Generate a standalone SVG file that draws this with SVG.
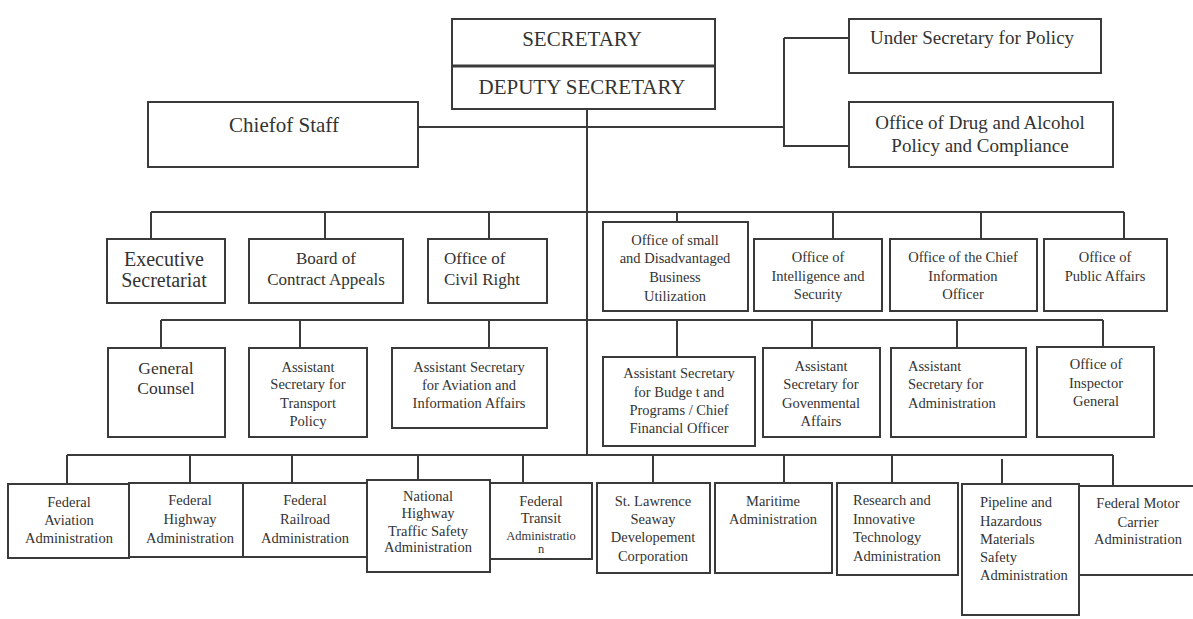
<svg xmlns="http://www.w3.org/2000/svg" width="1193" height="619" viewBox="0 0 1193 619">
<style>
.b{fill:#fff;stroke:#3a3a3a;stroke-width:2}
.c{fill:none;stroke:#3a3a3a;stroke-width:2}
text{font-family:"Liberation Serif","Times New Roman",serif;fill:#333;text-anchor:middle}
.xxl{font-size:21px}
.xl{font-size:20px}
.gc{font-size:17.5px}
.l{font-size:19px}
.m{font-size:17px}
.s{font-size:14.5px}
.xs{font-size:12.5px}
.st{text-anchor:start}
</style>
<rect width="1193" height="619" fill="#fff"/>
<g id="connectors">
<path class="c" d="M587 109V455"/>
<path class="c" d="M418 127H784M784 38H849M784 38V146H849"/>
<path class="c" d="M151 212H1124M151 212V239M325 212V239M489 212V239M677 212V222M833 212V239M981 212V239M1124 212V239"/>
<path class="c" d="M161 320H1103M161 320V348M300 320V348M489 320V348M677 320V357M812 320V348M957 320V348M1103 320V347"/>
<path class="c" d="M67 455H1113M67 455V484M190 455V483M292 455V483M418 455V480M523 455V483M653 455V483M784 455V483M892 455V483M1002 459V484M1113 455V486"/>
</g>
<g id="secretary"><rect class="b" x="452" y="19" width="263" height="90"/><path d="M452 66H715" stroke="#3a3a3a" stroke-width="3"/>
<text class="xxl" x="582" y="46">SECRETARY</text><text class="xxl" x="582" y="94">DEPUTY SECRETARY</text></g>
<g id="chief-of-staff"><rect class="b" x="148" y="102" width="270" height="65"/><text class="xxl" x="284" y="132">Chiefof Staff</text></g>
<g id="under-secretary"><rect class="b" x="849" y="19" width="252" height="54"/><text class="l" x="972" y="44">Under Secretary for Policy</text></g>
<g id="drug-alcohol"><rect class="b" x="849" y="102" width="264" height="65"/><text class="l" x="980" y="129">Office of Drug and Alcohol</text><text class="l" x="980" y="152">Policy and Compliance</text></g>

<g id="executive-secretariat"><rect class="b" x="107" y="239" width="118" height="64"/><text class="xl" x="164" y="266">Executive</text><text class="xl" x="164" y="287">Secretariat</text></g>
<g id="board-contract-appeals"><rect class="b" x="249" y="239" width="154" height="64"/><text class="m" x="326" y="264">Board of</text><text class="m" x="326" y="285">Contract Appeals</text></g>
<g id="civil-right"><rect class="b" x="428" y="239" width="119" height="64"/><text class="m st" x="444" y="264">Office of</text><text class="m st" x="444" y="285">Civil Right</text></g>
<g id="small-business"><rect class="b" x="603" y="222" width="145" height="89"/><text class="s" x="675" y="245">Office of small</text><text class="s" x="675" y="263">and Disadvantaged</text><text class="s" x="675" y="282">Business</text><text class="s" x="675" y="301">Utilization</text></g>
<g id="intelligence-security"><rect class="b" x="754" y="239" width="128" height="72"/><text class="s" x="818" y="262">Office of</text><text class="s" x="818" y="281">Intelligence and</text><text class="s" x="818" y="299">Security</text></g>
<g id="chief-information-officer"><rect class="b" x="890" y="239" width="147" height="72"/><text class="s" x="963" y="262">Office of the Chief</text><text class="s" x="963" y="281">Information</text><text class="s" x="963" y="299">Officer</text></g>
<g id="public-affairs"><rect class="b" x="1044" y="239" width="123" height="72"/><text class="s" x="1105" y="262">Office of</text><text class="s" x="1105" y="281">Public Affairs</text></g>

<g id="general-counsel"><rect class="b" x="108" y="348" width="117" height="89"/><text class="gc" x="166" y="374">General</text><text class="gc" x="166" y="394">Counsel</text></g>
<g id="transport-policy"><rect class="b" x="249" y="348" width="118" height="89"/><text class="s" x="308" y="372">Assistant</text><text class="s" x="308" y="389">Secretary for</text><text class="s" x="308" y="408">Transport</text><text class="s" x="308" y="426">Policy</text></g>
<g id="aviation-information"><rect class="b" x="392" y="348" width="155" height="80"/><text class="s" x="469" y="372">Assistant Secretary</text><text class="s" x="469" y="390">for Aviation and</text><text class="s" x="469" y="408">Information Affairs</text></g>
<g id="budget-programs"><rect class="b" x="603" y="357" width="152" height="89"/><text class="s" x="679" y="378">Assistant Secretary</text><text class="s" x="679" y="397">for Budge t and</text><text class="s" x="679" y="415">Programs / Chief</text><text class="s" x="679" y="433">Financial Officer</text></g>
<g id="governmental-affairs"><rect class="b" x="763" y="348" width="117" height="89"/><text class="s" x="821" y="371">Assistant</text><text class="s" x="821" y="389">Secretary for</text><text class="s" x="821" y="408">Govenmental</text><text class="s" x="821" y="426">Affairs</text></g>
<g id="administration"><rect class="b" x="891" y="348" width="135" height="89"/><text class="s st" x="908" y="371">Assistant</text><text class="s st" x="908" y="389">Secretary for</text><text class="s st" x="908" y="408">Administration</text></g>
<g id="inspector-general"><rect class="b" x="1037" y="347" width="117" height="90"/><text class="s" x="1096" y="369">Office of</text><text class="s" x="1096" y="388">Inspector</text><text class="s" x="1096" y="406">General</text></g>

<g id="faa"><rect class="b" x="8" y="484" width="121" height="74"/><text class="s" x="69" y="507">Federal</text><text class="s" x="69" y="525">Aviation</text><text class="s" x="69" y="543">Administration</text></g>
<g id="fhwa"><rect class="b" x="129" y="483" width="114" height="74"/><text class="s" x="190" y="505">Federal</text><text class="s" x="190" y="524">Highway</text><text class="s" x="190" y="543">Administration</text></g>
<g id="fra"><rect class="b" x="243" y="483" width="125" height="74"/><text class="s" x="305" y="505">Federal</text><text class="s" x="305" y="524">Railroad</text><text class="s" x="305" y="543">Administration</text></g>
<g id="nhtsa"><rect class="b" x="367" y="480" width="123" height="92"/><text class="s" x="428" y="501">National</text><text class="s" x="428" y="518">Highway</text><text class="s" x="428" y="536">Traffic Safety</text><text class="s" x="428" y="552">Administration</text></g>
<g id="fta"><rect class="b" x="490" y="483" width="102" height="76"/><text class="s" x="541" y="506">Federal</text><text class="s" x="541" y="523">Transit</text><text class="xs" x="541" y="540">Administratio</text><text class="xs" x="541" y="553">n</text></g>
<g id="st-lawrence"><rect class="b" x="597" y="483" width="113" height="90"/><text class="s" x="653" y="506">St. Lawrence</text><text class="s" x="653" y="524">Seaway</text><text class="s" x="653" y="542">Developement</text><text class="s" x="653" y="561">Corporation</text></g>
<g id="maritime"><rect class="b" x="715" y="483" width="117" height="90"/><text class="s" x="773" y="506">Maritime</text><text class="s" x="773" y="524">Administration</text></g>
<g id="rita"><rect class="b" x="837" y="483" width="121" height="92"/><text class="s st" x="853" y="505">Research and</text><text class="s st" x="853" y="524">Innovative</text><text class="s st" x="853" y="542">Technology</text><text class="s st" x="853" y="561">Administration</text></g>
<g id="phmsa"><rect class="b" x="962" y="484" width="117" height="131"/><text class="s st" x="980" y="507">Pipeline and</text><text class="s st" x="980" y="526">Hazardous</text><text class="s st" x="980" y="544">Materials</text><text class="s st" x="980" y="562">Safety</text><text class="s st" x="980" y="580">Administration</text></g>
<g id="fmcsa"><rect class="b" x="1079" y="486" width="120" height="89"/><text class="s" x="1138" y="508">Federal Motor</text><text class="s" x="1138" y="527">Carrier</text><text class="s" x="1138" y="544">Administration</text></g>
</svg>
